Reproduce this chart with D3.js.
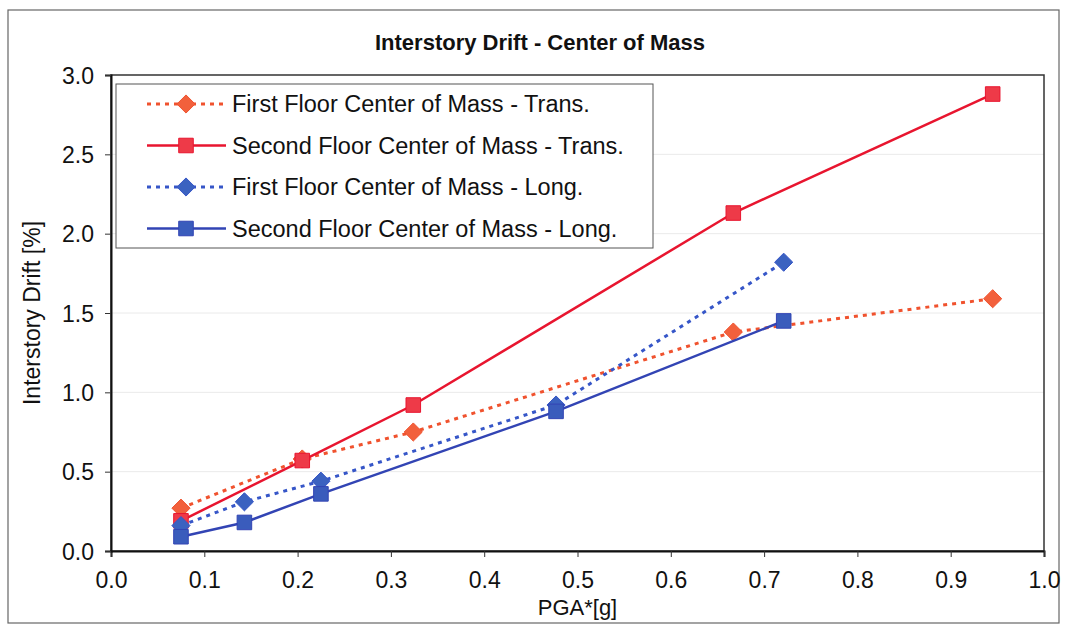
<!DOCTYPE html>
<html>
<head>
<meta charset="utf-8">
<script src="https://cdn.jsdelivr.net/npm/d3@7"></script>
<style>
  body { margin: 0; background: #fff; }
  text { font-family: "Liberation Sans", Arial, sans-serif; fill: #111; }
</style>
</head>
<body>
<div id="chart"></div>
<script>
// values
const pgaTrans = [0.075, 0.205, 0.324, 0.667, 0.945];
const pgaLong = [0.075, 0.143, 0.225, 0.477, 0.721];
const firstTrans = [0.27, 0.58, 0.75, 1.38, 1.59];
const secondTrans = [0.19, 0.57, 0.92, 2.13, 2.88];
const firstLong = [0.16, 0.31, 0.44, 0.92, 1.82];
const secondLong = [0.09, 0.18, 0.36, 0.88, 1.45];
const xTicks = [0, 0.1, 0.2, 0.3, 0.4, 0.5, 0.6, 0.7, 0.8, 0.9, 1.0];
const yTicks = [0, 0.5, 1.0, 1.5, 2.0, 2.5, 3.0];
const seriesNames = [
  "First Floor Center of Mass - Trans.",
  "Second Floor Center of Mass - Trans.",
  "First Floor Center of Mass - Long.",
  "Second Floor Center of Mass - Long."
];

const W = 1065, H = 627;
const MARGIN = {left: 111, right: 21, top: 75, bottom: 76};
const WIDTH = W - MARGIN.left - MARGIN.right;
const HEIGHT = H - MARGIN.top - MARGIN.bottom;

const series = [
  {name: seriesNames[0], xs: pgaTrans, ys: firstTrans, line: '#f0522e', fill: '#f2603c', shape: 'diamond', dash: '4,5'},
  {name: seriesNames[1], xs: pgaTrans, ys: secondTrans, line: '#e8152f', fill: '#ee3a48', shape: 'square', dash: null},
  {name: seriesNames[2], xs: pgaLong, ys: firstLong, line: '#3656c8', fill: '#3b62c0', shape: 'diamond', dash: '4,5'},
  {name: seriesNames[3], xs: pgaLong, ys: secondLong, line: '#3244b4', fill: '#3a5cbc', shape: 'square', dash: null}
];

const svg = d3.select('#chart').append('svg')
  .attr('width', W)
  .attr('height', H);

// outer chart frame
svg.append('rect')
  .attr('x', 8).attr('y', 10)
  .attr('width', 1051).attr('height', 613)
  .attr('fill', 'none')
  .attr('stroke', '#666')
  .attr('stroke-width', 1.2);

svg.append('text')
  .attr('x', 540).attr('y', 50)
  .attr('text-anchor', 'middle')
  .attr('font-size', '22px')
  .attr('font-weight', 'bold')
  .text('Interstory Drift - Center of Mass');

const g = svg.append('g')
  .attr('transform', `translate(${MARGIN.left},${MARGIN.top})`);

const x = d3.scaleLinear().domain([0, 1]).range([0, WIDTH]);
const y = d3.scaleLinear().domain([0, 3]).range([HEIGHT, 0]);

// faint gridlines
g.append('g')
  .selectAll('line')
  .data(yTicks.slice(1, -1))
  .enter().append('line')
    .attr('x1', 0).attr('x2', WIDTH)
    .attr('y1', d => y(d)).attr('y2', d => y(d))
    .attr('stroke', '#eaeaea')
    .attr('stroke-width', 1);

// plot area border
g.append('rect')
  .attr('width', WIDTH).attr('height', HEIGHT)
  .attr('fill', 'none')
  .attr('stroke', '#333')
  .attr('stroke-width', 1.5);

const xAxis = g.append('g')
  .attr('transform', `translate(0,${HEIGHT})`)
  .call(d3.axisBottom(x).tickValues(xTicks).tickFormat(d3.format('.1f')).tickSize(6).tickPadding(15));
const yAxis = g.append('g')
  .call(d3.axisLeft(y).tickValues(yTicks).tickFormat(d3.format('.1f')).tickSize(6).tickPadding(11));

[xAxis, yAxis].forEach(ax => {
  ax.select('.domain').attr('stroke', '#111').attr('stroke-width', 2);
  ax.selectAll('.tick line').attr('stroke', '#333');
  ax.selectAll('.tick text')
    .attr('font-size', '23px')
    .attr('font-family', '"Liberation Sans", Arial, sans-serif')
    .attr('fill', '#111');
});
yAxis.selectAll('.tick text').attr('dy', '0.36em');

// axis titles
g.append('text')
  .attr('x', WIDTH / 2).attr('y', HEIGHT + 64)
  .attr('text-anchor', 'middle')
  .attr('font-size', '22px')
  .text('PGA*[g]');

g.append('text')
  .attr('transform', 'rotate(-90)')
  .attr('x', -HEIGHT / 2).attr('y', -71)
  .attr('text-anchor', 'middle')
  .attr('font-size', '23px')
  .text('Interstory Drift [%]');

const diamond = d3.symbol().type(d3.symbolDiamond2).size(210);
const square = d3.symbol().type(d3.symbolSquare2).size(270);

function marker(sel, s) {
  sel.append('path')
    .attr('d', s.shape === 'diamond' ? diamond() : square())
    .attr('fill', s.fill)
    .attr('stroke', s.line)
    .attr('stroke-width', 1);
}

const line = d3.line().x(d => x(d[0])).y(d => y(d[1]));

series.forEach(s => {
  const pts = s.xs.map((v, i) => [v, s.ys[i]]);
  const sg = g.append('g');
  sg.append('path')
    .datum(pts)
    .attr('d', line)
    .attr('fill', 'none')
    .attr('stroke', s.line)
    .attr('stroke-width', s.dash ? 3 : 2.5)
    .attr('stroke-dasharray', s.dash);
  sg.selectAll('g.pt')
    .data(pts)
    .enter().append('g')
      .attr('class', 'pt')
      .attr('transform', d => `translate(${x(d[0])},${y(d[1])})`)
      .each(function() { marker(d3.select(this), s); });
});

// legend
const legend = svg.append('g').attr('transform', 'translate(116,84)');
legend.append('rect')
  .attr('width', 537).attr('height', 164)
  .attr('fill', '#fff')
  .attr('stroke', '#555')
  .attr('stroke-width', 1);

series.forEach((s, i) => {
  const row = legend.append('g').attr('transform', `translate(0,${20 + i * 41.5})`);
  row.append('line')
    .attr('x1', 31).attr('x2', 110)
    .attr('stroke', s.line)
    .attr('stroke-width', s.dash ? 3 : 2.5)
    .attr('stroke-dasharray', s.dash);
  const m = row.append('g').attr('transform', 'translate(70,0)');
  marker(m, s);
  row.append('text')
    .attr('x', 116).attr('y', 8)
    .attr('font-size', '23.5px')
    .text(s.name);
});
</script>
</body>
</html>
